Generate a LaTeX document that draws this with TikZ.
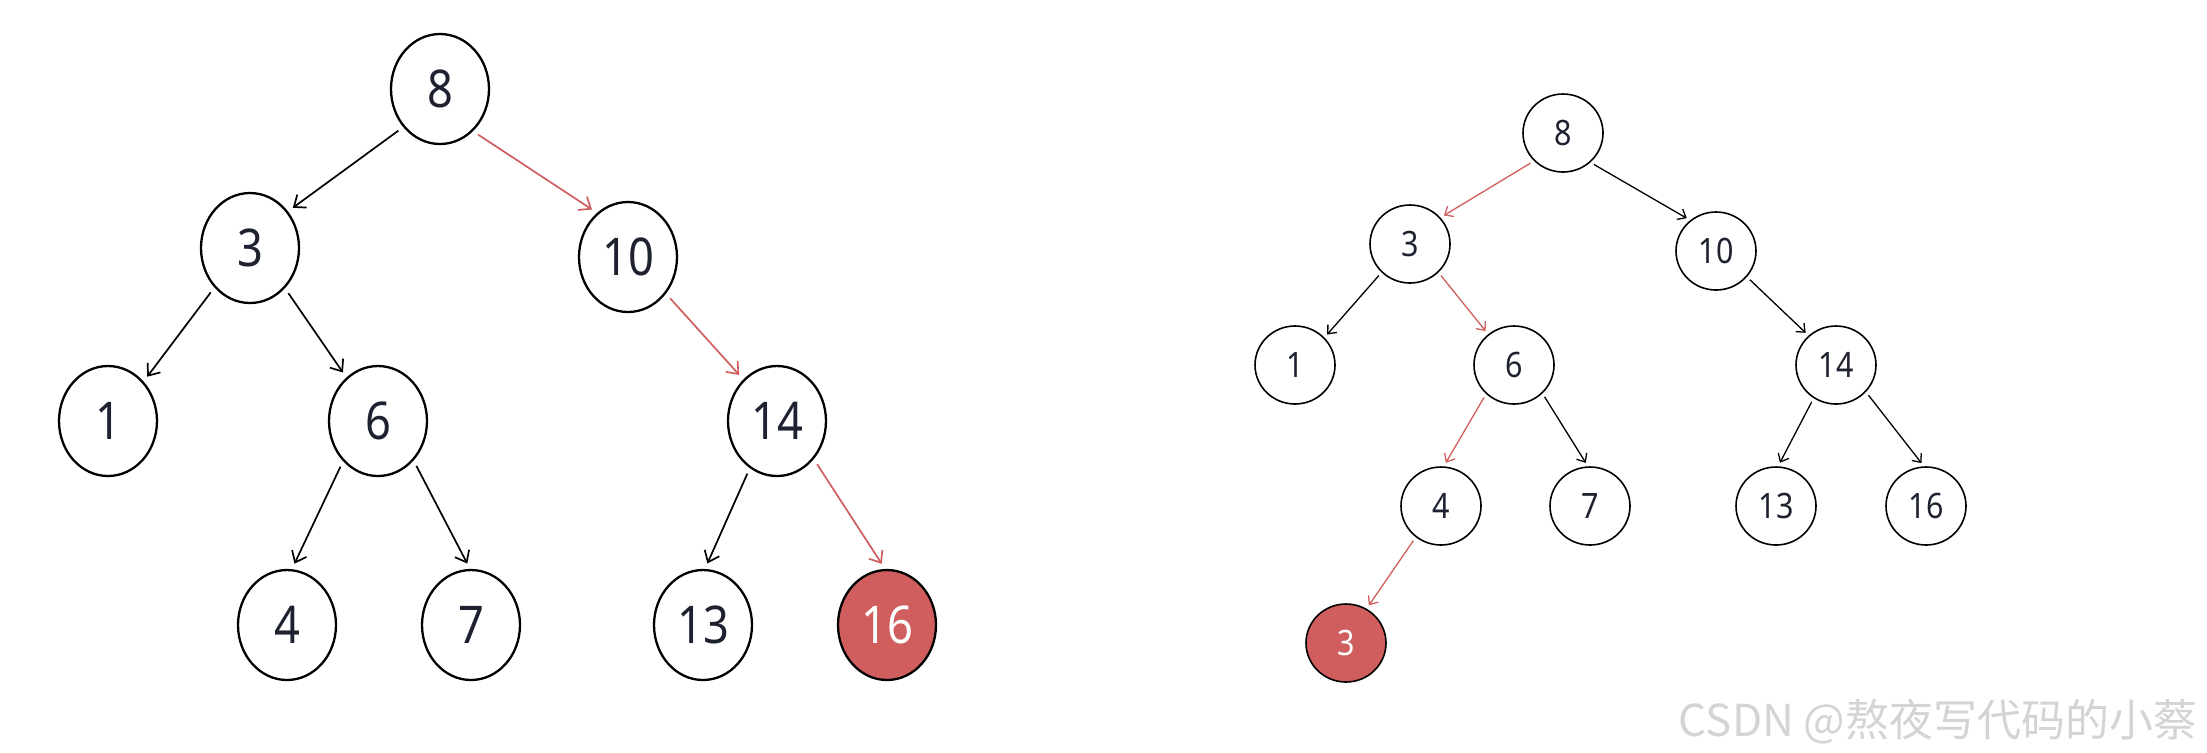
\documentclass[tikz,border=0pt]{standalone}
\usepackage{fontspec}
\usetikzlibrary{shapes.geometric,arrows.meta}
\newfontfamily\digfont[FakeStretch=0.87]{Noto Sans}
\newfontfamily\cjkfont{Noto Sans CJK SC}
\definecolor{hred}{RGB}{209,94,94}
\definecolor{ink}{RGB}{30,34,48}
\definecolor{wmgray}{RGB}{212,212,212}
\begin{document}
\begin{tikzpicture}[x=0.5pt,y=-0.5pt,
  bignode/.style={ellipse, draw=black, line width=1.15pt, minimum width=49pt, minimum height=55pt, inner sep=0pt, font=\digfont\fontsize{26}{26}\selectfont, text=ink},
  smallnode/.style={ellipse, draw=black, line width=0.8pt, minimum width=40pt, minimum height=39pt, inner sep=0pt, font=\digfont\fontsize{17.5}{17.5}\selectfont, text=ink},
  hot/.style={fill=hred, text=white},
  bigedge/.style={-{Straight Barb[length=5pt,width=8pt]}, line width=0.85pt, shorten <=3pt, shorten >=3pt},
  smalledge/.style={-{Straight Barb[length=3.5pt,width=6pt]}, line width=0.65pt, shorten <=2pt, shorten >=2pt},
  redline/.style={draw=hred}
]
\useasboundingbox (0,0) rectangle (2207,752);
% left tree
\node[bignode] (L8) at (440,89) {8};
\node[bignode] (L3) at (250,248) {3};
\node[bignode] (L10) at (628,257) {10};
\node[bignode] (L1) at (108,421) {1};
\node[bignode] (L6) at (378,421) {6};
\node[bignode] (L14) at (777,421) {14};
\node[bignode] (L4) at (287,625) {4};
\node[bignode] (L7) at (471,625) {7};
\node[bignode] (L13) at (703,625) {13};
\node[bignode,hot] (L16) at (887,625) {16};
\draw[bigedge] (L8.-134.5) -- (L3.44.3);
\draw[bigedge,redline] (L8.-52.8) -- (L10.125.9);
\draw[bigedge] (L3.-132.4) -- (L1.48.9);
\draw[bigedge] (L3.-49.2) -- (L6.126.2);
\draw[bigedge,redline] (L10.-44.4) -- (L14.129.4);
\draw[bigedge] (L6.-131.3) -- (L4.85.6);
\draw[bigedge] (L6.-48.4) -- (L7.91);
\draw[bigedge] (L14.-120.7) -- (L13.88);
\draw[bigedge,redline] (L14.-46.3) -- (L16.92);
% right tree
\node[smallnode] (R8) at (1563,133) {8};
\node[smallnode] (R3) at (1410,244) {3};
\node[smallnode] (R10) at (1716,251) {10};
\node[smallnode] (R1) at (1295,365) {1};
\node[smallnode] (R6) at (1514,365) {6};
\node[smallnode] (R14) at (1836,365) {14};
\node[smallnode] (R4) at (1441,506) {4};
\node[smallnode] (R7) at (1590,506) {7};
\node[smallnode] (R13) at (1776,506) {13};
\node[smallnode] (R16) at (1926,506) {16};
\node[smallnode,hot] (R3r) at (1346,643) {3};
\draw[smalledge,redline] (R8.-136.9) -- (R3.41.9);
\draw[smalledge] (R8.-47.6) -- (R10.130);
\draw[smalledge] (R3.-135.4) -- (R1.43.1);
\draw[smalledge,redline] (R3.-45.9) -- (R6.130.1);
\draw[smalledge] (R10.-40.4) -- (R14.133.7);
\draw[smalledge,redline] (R6.-134.8) -- (R4.86.5);
\draw[smalledge] (R6.-45.3) -- (R7.93.5);
\draw[smalledge] (R14.-124) -- (R13.87.3);
\draw[smalledge] (R14.-42.9) -- (R16.93.5);
\draw[smalledge,redline] (R4.-129) -- (R3r.59.2);
% watermark
\node[anchor=base east, inner sep=0pt, font=\cjkfont\fontsize{22}{22}\selectfont, text=wmgray] (wm) at (2198,736) {CSDN @熬夜写代码的小蔡};
\end{tikzpicture}
\end{document}
